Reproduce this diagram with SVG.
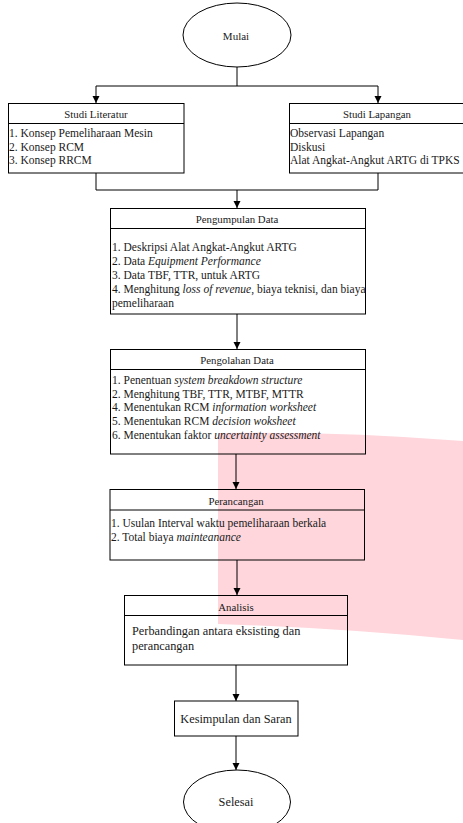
<svg xmlns="http://www.w3.org/2000/svg" width="463" height="823" viewBox="0 0 463 823">
<defs>
<marker id="arr" markerWidth="8" markerHeight="8" refX="7" refY="4" orient="auto" markerUnits="userSpaceOnUse">
<path d="M0,0.5 L7,4 L0,7.5 Z" fill="#000"/>
</marker>
<style>
.box{fill:none;stroke:#000;stroke-width:1}
.ln{fill:none;stroke:#000;stroke-width:1}
.t{font-family:'Liberation Serif','DejaVu Serif',serif;fill:#1a1a1a}
.title{font-size:10.8px;text-anchor:middle}
.body{font-size:11.5px}
.big{font-size:12.3px}
.i{font-style:italic}
</style>
</defs>
<rect width="463" height="823" fill="#fff"/>
<path d="M218,433 Q340,431 463,441 L463,640 Q340,628 218,624 Z" fill="#fed6dc"/>

<g id="connectors">
<line class="ln" x1="237" y1="67" x2="237" y2="86"/>
<line class="ln" x1="96" y1="86" x2="378" y2="86"/>
<line class="ln" x1="96" y1="86" x2="96" y2="103" marker-end="url(#arr)"/>
<line class="ln" x1="378" y1="86" x2="378" y2="103" marker-end="url(#arr)"/>
<line class="ln" x1="96" y1="173" x2="96" y2="190"/>
<line class="ln" x1="378" y1="173" x2="378" y2="190"/>
<line class="ln" x1="96" y1="190" x2="378" y2="190"/>
<line class="ln" x1="237" y1="190" x2="237" y2="208" marker-end="url(#arr)"/>
<line class="ln" x1="237" y1="314" x2="237" y2="349" marker-end="url(#arr)"/>
<line class="ln" x1="236" y1="454" x2="236" y2="489" marker-end="url(#arr)"/>
<line class="ln" x1="237" y1="560" x2="237" y2="595" marker-end="url(#arr)"/>
<line class="ln" x1="236" y1="665" x2="236" y2="701" marker-end="url(#arr)"/>
<line class="ln" x1="236" y1="736" x2="236" y2="770" marker-end="url(#arr)"/>
</g>

<g id="mulai">
<ellipse class="box" cx="237" cy="35" rx="54" ry="32"/>
<text class="t" x="236" y="39.5" font-size="11" text-anchor="middle" font-family="Liberation Serif, serif">Mulai</text>
</g>

<g id="studi-literatur" font-family="Liberation Serif, serif">
<rect class="box" x="8.5" y="103.5" width="175.5" height="69.5"/>
<line class="ln" x1="8.5" y1="123.5" x2="184" y2="123.5"/>
<text class="t title" x="96" y="118">Studi Literatur</text>
<text class="t body" x="9" y="137">1. Konsep Pemeliharaan Mesin</text>
<text class="t body" x="9" y="150.5">2. Konsep RCM</text>
<text class="t body" x="9" y="163.5">3. Konsep RRCM</text>
</g>

<g id="studi-lapangan">
<rect class="box" x="289.5" y="103.5" width="180" height="69.5"/>
<line class="ln" x1="289.5" y1="123.5" x2="463" y2="123.5"/>
<text class="t title" x="377" y="118">Studi Lapangan</text>
<text class="t body" x="290" y="137">Observasi Lapangan</text>
<text class="t body" x="290" y="150.5">Diskusi</text>
<text class="t body" x="290" y="163.5">Alat Angkat-Angkut ARTG di TPKS</text>
</g>

<g id="pengumpulan-data">
<rect class="box" x="110.5" y="208.5" width="255" height="105.5"/>
<line class="ln" x1="110.5" y1="228.5" x2="365.5" y2="228.5"/>
<text class="t title" x="237" y="222.5">Pengumpulan Data</text>
<text class="t body" x="112" y="251">1. Deskripsi Alat Angkat-Angkut ARTG</text>
<text class="t body" x="112" y="265">2. Data <tspan class="i">Equipment Performance</tspan></text>
<text class="t body" x="112" y="279">3. Data TBF, TTR, untuk ARTG</text>
<text class="t body" x="112" y="293">4. Menghitung <tspan class="i">loss of revenue</tspan>, biaya teknisi, dan biaya</text>
<text class="t body" x="112" y="306.5">pemeliharaan</text>
</g>

<g id="pengolahan-data">
<rect class="box" x="110.5" y="349.5" width="255" height="104.5"/>
<line class="ln" x1="110.5" y1="369.5" x2="365.5" y2="369.5"/>
<text class="t title" x="237" y="364">Pengolahan Data</text>
<text class="t body" x="112" y="384">1. Penentuan <tspan class="i">system breakdown structure</tspan></text>
<text class="t body" x="112" y="397.5">2. Menghitung TBF, TTR, MTBF, MTTR</text>
<text class="t body" x="112" y="411">4. Menentukan RCM <tspan class="i">information worksheet</tspan></text>
<text class="t body" x="112" y="424.5">5. Menentukan RCM <tspan class="i">decision woksheet</tspan></text>
<text class="t body" x="112" y="438.5">6. Menentukan faktor <tspan class="i">uncertainty assessment</tspan></text>
</g>

<g id="perancangan">
<rect class="box" x="110" y="489.5" width="254.5" height="70.5"/>
<line class="ln" x1="110" y1="510" x2="364.5" y2="510"/>
<text class="t title" x="236" y="504.5">Perancangan</text>
<text class="t body" x="111" y="527">1. Usulan Interval waktu pemeliharaan berkala</text>
<text class="t body" x="111" y="540.5">2. Total biaya <tspan class="i">mainteanance</tspan></text>
</g>

<g id="analisis">
<rect class="box" x="124.5" y="595.5" width="223" height="69.5"/>
<line class="ln" x1="124.5" y1="615.5" x2="347.5" y2="615.5"/>
<text class="t title" x="236" y="610.5">Analisis</text>
<text class="t big" x="132" y="635">Perbandingan antara eksisting dan</text>
<text class="t big" x="132" y="650">perancangan</text>
</g>

<g id="kesimpulan">
<rect class="box" x="174.5" y="701" width="123.5" height="35"/>
<text class="t big" x="236" y="722.5" text-anchor="middle">Kesimpulan dan Saran</text>
</g>

<g id="selesai">
<ellipse class="box" cx="237" cy="802" rx="53.5" ry="32"/>
<text class="t" x="236" y="806" font-size="12.3" text-anchor="middle">Selesai</text>
</g>
</svg>
